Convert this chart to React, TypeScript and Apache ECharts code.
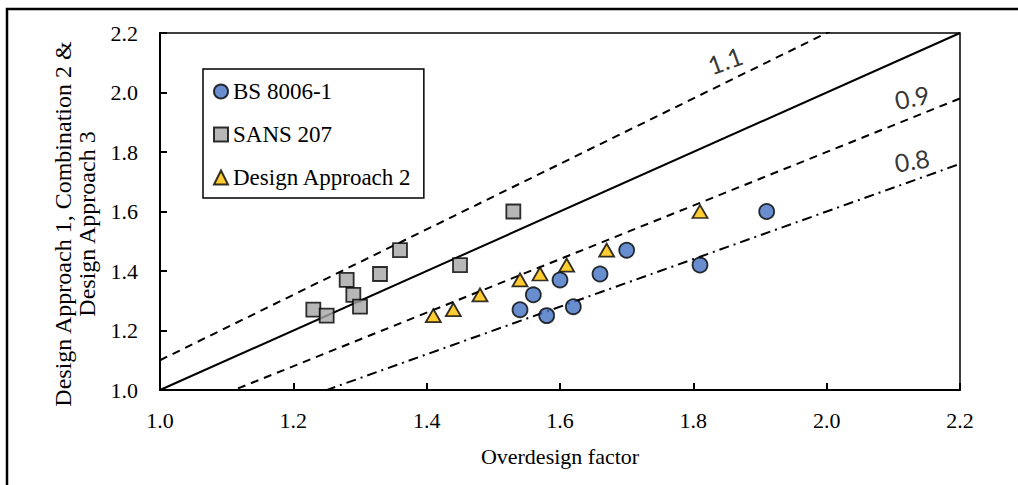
import React, { useEffect, useRef } from "react";
import * as echarts from "echarts";

const bsX = [1.54, 1.56, 1.58, 1.6, 1.62, 1.66, 1.7, 1.81, 1.91];
const bsY = [1.27, 1.32, 1.25, 1.37, 1.28, 1.39, 1.47, 1.42, 1.6];
const sansX = [1.23, 1.25, 1.28, 1.29, 1.3, 1.33, 1.36, 1.45, 1.53];
const sansY = [1.27, 1.25, 1.37, 1.32, 1.28, 1.39, 1.47, 1.42, 1.6];
const da2X = [1.41, 1.44, 1.48, 1.54, 1.57, 1.61, 1.67, 1.81];
const da2Y = [1.25, 1.27, 1.32, 1.37, 1.39, 1.42, 1.47, 1.6];
const ratios = [1.0, 1.1, 0.9, 0.8];
const ratioLabels = ["", "1.1", "0.9", "0.8"];
const labelX = [0, 1.8475, 2.128, 2.128];
const labelY = [0, 2.109, 1.985, 1.773];
const labelRot = [0, 20, 12, 9];
const seriesNames = ["BS 8006-1", "SANS 207", "Design Approach 2"];
const xTitle = "Overdesign factor";
const yTitle = "Design Approach 1, Combination 2 &\nDesign Approach 3";
const xMin = 1.0;
const xMax = 2.2;
const tickStep = 0.2;

const serif = "Liberation Serif";

export default function App() {
  const ref = useRef<HTMLDivElement>(null);
  useEffect(() => {
    if (!ref.current) return;
    const chart = echarts.init(ref.current, null, { renderer: "svg" });
    const zip = (xs: number[], ys: number[]) => xs.map((x, i) => [x, ys[i]]);
    const lineTypes: any[] = ["solid", [8, 6], [8, 6], [10, 5, 2, 5]];
    const refSeries = ratios.map((k, i) => ({
      type: "line",
      name: "ref" + i,
      data: [
        [xMin, k * xMin],
        [xMax, k * xMax],
      ],
      symbol: "none",
      clip: true,
      silent: true,
      lineStyle: { color: "#000", width: 2, type: lineTypes[i] },
      z: 1,
    }));
    const markerBase = { borderColor: "#000", borderWidth: 1.8 };
    chart.setOption({
      animation: false,
      backgroundColor: "#fff",
      graphic: [
        {
          type: "rect",
          shape: { x: 7, y: 9, width: 1040, height: 520 },
          style: { fill: "none", stroke: "#000", lineWidth: 2.5 },
          silent: true,
        },
        {
          type: "text",
          x: 75,
          y: 224,
          rotation: Math.PI / 2,
          silent: true,
          style: {
            text: yTitle,
            fontFamily: serif,
            fontSize: 24,
            lineHeight: 24,
            fill: "#000",
            align: "center",
            verticalAlign: "middle",
          },
        },
      ],
      grid: {
        left: 160,
        right: 58,
        top: 33,
        bottom: 95,
        show: true,
        borderColor: "#000",
        borderWidth: 1.5,
        backgroundColor: "transparent",
      },
      legend: {
        data: seriesNames,
        orient: "vertical",
        left: 203,
        top: 69,
        padding: [11, 12, 9, 10],
        itemGap: 20,
        itemWidth: 14,
        itemHeight: 14,
        borderColor: "#000",
        borderWidth: 1.5,
        backgroundColor: "#fff",
        textStyle: { fontFamily: serif, fontSize: 23, color: "#000" },
      },
      xAxis: {
        type: "value",
        min: xMin,
        max: xMax,
        interval: tickStep,
        name: xTitle,
        nameLocation: "middle",
        nameGap: 55,
        nameTextStyle: { fontFamily: serif, fontSize: 22, color: "#000" },
        axisLine: { show: true, onZero: false, lineStyle: { color: "#000", width: 2 } },
        axisTick: { show: true, inside: true, length: 7, lineStyle: { color: "#000", width: 2 } },
        axisLabel: {
          fontFamily: serif,
          fontSize: 22,
          color: "#000",
          margin: 19,
          formatter: (v: number) => v.toFixed(1),
        },
        splitLine: { show: false },
      },
      yAxis: {
        type: "value",
        min: xMin,
        max: xMax,
        interval: tickStep,
        axisLine: { show: true, onZero: false, lineStyle: { color: "#000", width: 2 } },
        axisTick: { show: true, inside: true, length: 7, lineStyle: { color: "#000", width: 2 } },
        axisLabel: {
          fontFamily: serif,
          fontSize: 22,
          color: "#000",
          margin: 22,
          formatter: (v: number) => v.toFixed(1),
        },
        splitLine: { show: false },
      },
      series: [
        ...refSeries,
        {
          type: "scatter",
          name: "lineLabels",
          silent: true,
          symbolSize: 0,
          data: ratios
            .map((k, i) => ({
              value: [labelX[i], labelY[i]],
              label: {
                show: true,
                formatter: ratioLabels[i],
                rotate: labelRot[i],
                position: "inside",
                fontFamily: "Lato",
                fontSize: 25,
                color: "#000",
              },
            }))
            .filter((_, i) => ratioLabels[i] !== ""),
          z: 3,
        },
        {
          type: "scatter",
          name: seriesNames[0],
          symbol: "circle",
          symbolSize: 15,
          data: zip(bsX, bsY),
          itemStyle: { color: "#4472C4", ...markerBase },
          z: 5,
        },
        {
          type: "scatter",
          name: seriesNames[1],
          symbol: "rect",
          symbolSize: 14,
          data: zip(sansX, sansY),
          itemStyle: { color: "#A5A5A5", ...markerBase },
          z: 5,
        },
        {
          type: "scatter",
          name: seriesNames[2],
          symbol: "triangle",
          symbolSize: [15, 13],
          data: zip(da2X, da2Y),
          itemStyle: { color: "#FFC000", ...markerBase },
          z: 5,
        },
      ],
    });
    return () => chart.dispose();
  }, []);
  return (
    <div
      ref={ref}
      style={{ position: "fixed", left: 0, top: 0, width: 1018, height: 485 }}
    />
  );
}
